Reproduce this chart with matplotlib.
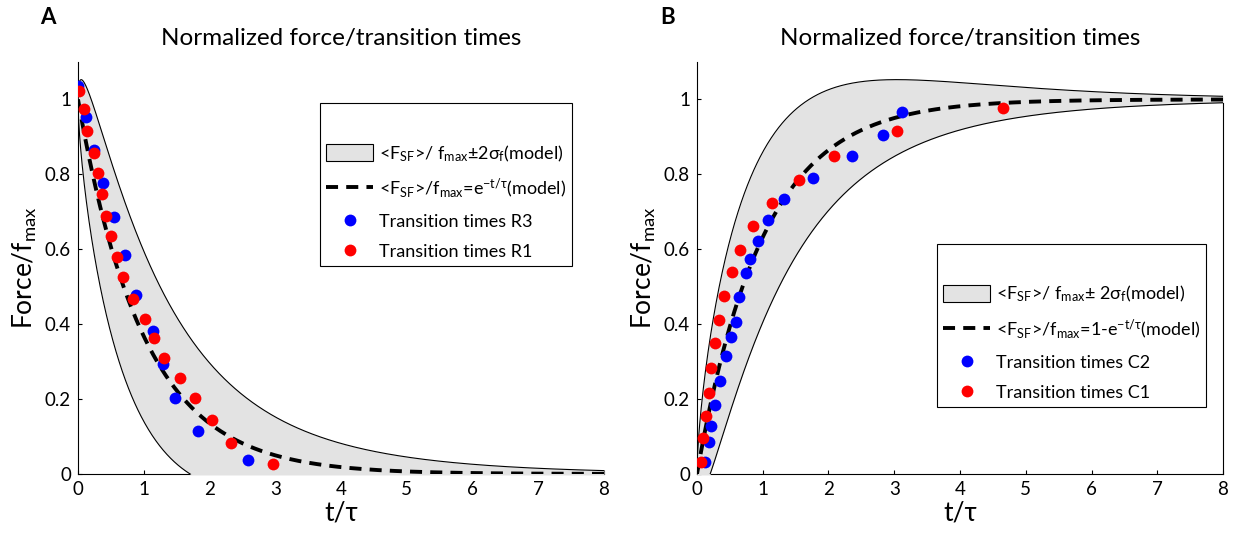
import numpy as np
import matplotlib.pyplot as plt
from matplotlib.patches import Patch
from matplotlib.lines import Line2D

plt.rcParams['font.family'] = ['Lato', 'DejaVu Sans']
plt.rcParams['mathtext.fontset'] = 'custom'
plt.rcParams['mathtext.rm'] = 'Lato'
plt.rcParams['mathtext.it'] = 'Lato:italic'
plt.rcParams['mathtext.default'] = 'regular'

# transition times, rupture (R1, R3)
tA_blue = [0.005, 0.12, 0.243, 0.375, 0.548, 0.715, 0.88, 1.136, 1.30, 1.47, 1.83, 2.58]
fA_blue = [1.036, 0.954, 0.866, 0.777, 0.685, 0.584, 0.479, 0.383, 0.294, 0.202, 0.115, 0.037]
tA_red = [0.02, 0.09, 0.14, 0.248, 0.304, 0.365, 0.43, 0.497, 0.598, 0.69, 0.83, 1.02,
          1.156, 1.308, 1.55, 1.775, 2.04, 2.32, 2.96]
fA_red = [1.022, 0.975, 0.915, 0.857, 0.804, 0.748, 0.690, 0.634, 0.580, 0.525, 0.468, 0.414,
          0.362, 0.310, 0.257, 0.202, 0.144, 0.084, 0.027]

# transition times, closing (C1, C2)
tB_blue = [0.127, 0.178, 0.208, 0.279, 0.355, 0.436, 0.512, 0.599, 0.634, 0.751, 0.807,
           0.924, 1.076, 1.324, 1.766, 2.355, 2.826, 3.115]
fB_blue = [0.031, 0.085, 0.129, 0.183, 0.249, 0.314, 0.365, 0.407, 0.472, 0.536, 0.574,
           0.621, 0.679, 0.734, 0.791, 0.848, 0.905, 0.967]
tB_red = [0.056, 0.091, 0.142, 0.178, 0.208, 0.279, 0.330, 0.411, 0.537, 0.66, 0.848,
          1.142, 1.548, 2.09, 3.04, 4.647]
fB_red = [0.033, 0.095, 0.156, 0.216, 0.283, 0.349, 0.412, 0.474, 0.539, 0.599, 0.663,
          0.724, 0.786, 0.848, 0.915, 0.976]

# model: exponential mean with binomial spread
n_mol = 18
t = np.linspace(0, 8, 1000)
p = np.exp(-t)
sig = np.sqrt(p * (1 - p) / n_mol)

band_col = '#e3e3e3'

fig = plt.figure(figsize=(12.36, 5.34), dpi=100)
axA = fig.add_axes([0.0631, 0.1124, 0.4256, 0.7716])
axB = fig.add_axes([0.5639, 0.1124, 0.4256, 0.7716])


def style(ax):
    for s in ['top', 'right']:
        ax.spines[s].set_visible(False)
    for s in ['left', 'bottom']:
        ax.spines[s].set_zorder(2)
        ax.spines[s].set_linewidth(0.8)
    ax.set_xlim(0, 8)
    ax.set_ylim(0, 1.1)
    ax.set_xticks(range(9))
    ax.set_yticks([0, 0.2, 0.4, 0.6, 0.8, 1])
    ax.set_yticklabels(['0', '0.2', '0.4', '0.6', '0.8', '1'])
    ax.tick_params(direction='in', length=3, width=0.8, labelsize=13.5, pad=5)
    ax.set_title('Normalized force/transition times', fontsize=17.5, pad=12)
    ax.set_xlabel('t/τ', fontsize=19, labelpad=2)
    ax.set_ylabel(r'Force/f$_{\mathrm{max}}$', fontsize=19, labelpad=4)


def draw(ax, mean, lo, hi, tb, fb, tr, fr, lab_dash, lab_b, lab_r, lab_band, anchor):
    ax.fill_between(t, lo, hi, color=band_col, lw=0, zorder=3)
    ax.plot(t, hi, color='k', lw=0.8, zorder=3.1)
    ax.plot(t, lo, color='k', lw=0.8, zorder=3.1)
    dash, = ax.plot(t, mean, color='k', lw=2.8, zorder=4)
    dash.set_dashes([3.1, 2.1])
    ax.plot(tb, fb, 'o', color='#0000ff', ms=8.5, mec='none', zorder=5)
    ax.plot(tr, fr, 'o', color='#ff0000', ms=8.5, mec='none', zorder=6)

    handles = [Patch(facecolor=band_col, edgecolor='k', lw=0.8),
               Line2D([], [], color='k', lw=2.8, dashes=[3.1, 2.1]),
               Line2D([], [], marker='o', ls='none', color='#0000ff', ms=8.5, mec='none'),
               Line2D([], [], marker='o', ls='none', color='#ff0000', ms=8.5, mec='none')]
    leg = ax.legend(handles, [lab_band, lab_dash, lab_b, lab_r], loc='upper left',
                    bbox_to_anchor=anchor, fontsize=13, title=' ', title_fontsize=17,
                    fancybox=False, edgecolor='k', framealpha=1, handlelength=2.6,
                    handleheight=1.05, handletextpad=0.3, borderpad=0.35,
                    labelspacing=0.7, borderaxespad=0)
    leg.get_frame().set_linewidth(0.8)
    leg.set_zorder(10)


style(axA)
draw(axA, p, p - 2 * sig, p + 2 * sig, tA_blue, fA_blue, tA_red, fA_red,
     r'<F$_{\mathrm{SF}}$>/f$_{\mathrm{max}}$=e$^{\mathrm{-t/}\tau}$(model)',
     'Transition times R3', 'Transition times R1',
     r'<F$_{\mathrm{SF}}$>/ f$_{\mathrm{max}}$±2σ$_{\mathrm{f}}$(model)',
     (0.46, 0.90))

style(axB)
draw(axB, 1 - p, 1 - p - 2 * sig, 1 - p + 2 * sig, tB_blue, fB_blue, tB_red, fB_red,
     r'<F$_{\mathrm{SF}}$>/f$_{\mathrm{max}}$=1-e$^{\mathrm{-t/}\tau}$(model)',
     'Transition times C2', 'Transition times C1',
     r'<F$_{\mathrm{SF}}$>/ f$_{\mathrm{max}}$± 2σ$_{\mathrm{f}}$(model)',
     (0.456, 0.558))
# closing edge of the band at t/tau = 8
axB.plot([8, 8], [0, 1 - p[-1] - 2 * sig[-1]], color='k', lw=0.8, clip_on=False, zorder=3.1)

fig.text(48 / 1236, 1 - 17 / 534, 'A', fontsize=16, fontweight='bold', ha='center', va='center')
fig.text(668 / 1236, 1 - 17 / 534, 'B', fontsize=16, fontweight='bold', ha='center', va='center')

fig.savefig('out.png', dpi=100)
